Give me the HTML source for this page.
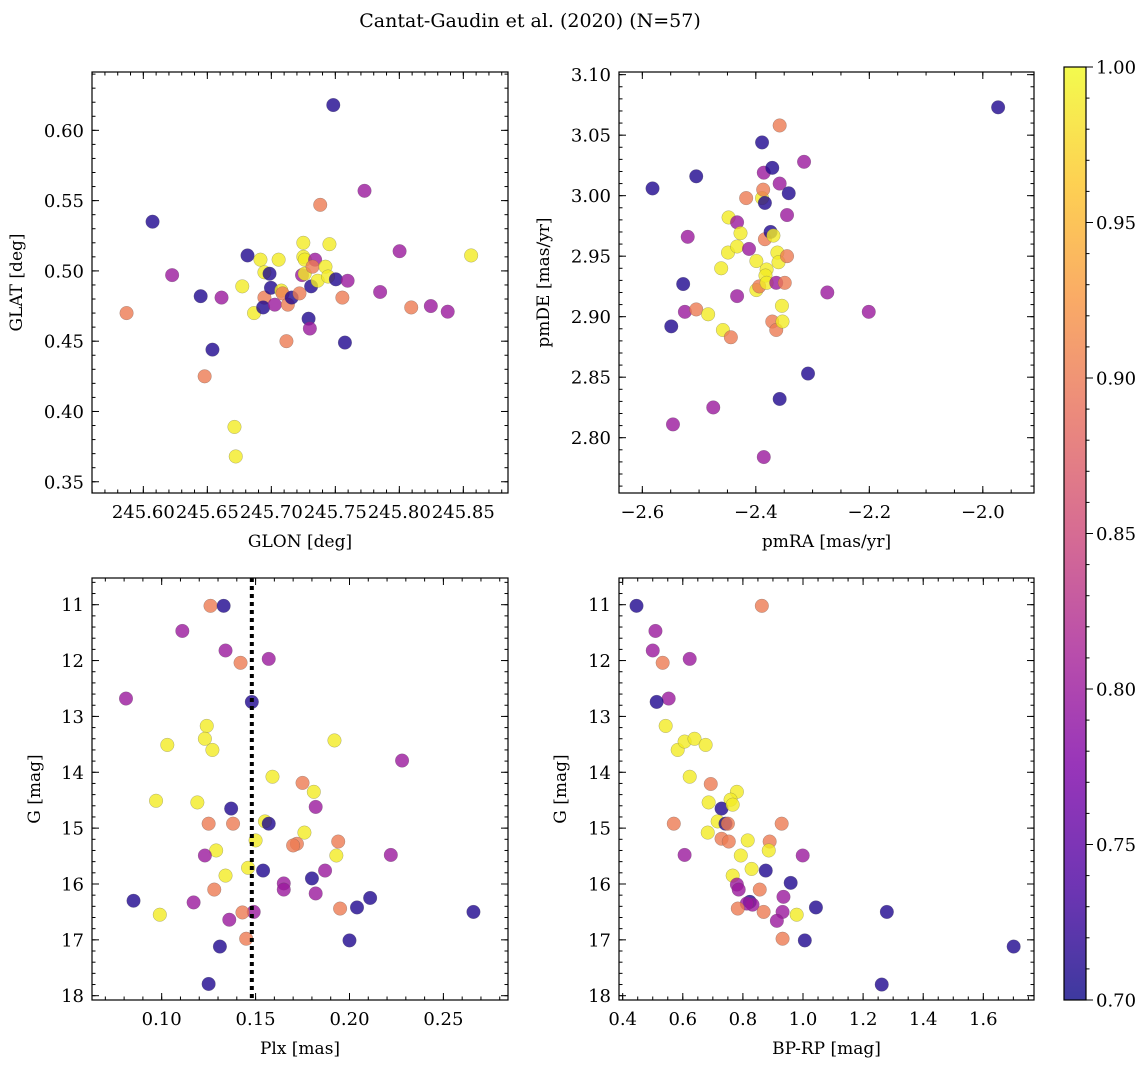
<!DOCTYPE html>
<html><head><meta charset="utf-8"><style>
body{margin:0;background:#fff}
svg{display:block;font-family:"DejaVu Serif","Liberation Serif",serif}
</style></head><body>
<svg id="fig" width="1148" height="1067" viewBox="0 0 1148 1067" xmlns="http://www.w3.org/2000/svg">
<defs>
<linearGradient id="plasma" x1="0" y1="1" x2="0" y2="0">
<stop offset="0" stop-color="#0d0887"/><stop offset="0.125" stop-color="#4c02a1"/><stop offset="0.25" stop-color="#7e03a8"/><stop offset="0.375" stop-color="#a82296"/><stop offset="0.5" stop-color="#cc4778"/><stop offset="0.625" stop-color="#e66c5c"/><stop offset="0.75" stop-color="#f89540"/><stop offset="0.875" stop-color="#fdc527"/><stop offset="1" stop-color="#f0f921"/>
</linearGradient>
</defs>
<text x="530" y="27" font-size="19" text-anchor="middle">Cantat-Gaudin et al. (2020) (N=57)</text>
</svg>
<script>
// ---- Panel 1 data: GLON vs GLAT ----
const p1X=[245.7484,245.6072,245.6225,245.5869,245.6448,245.6540,245.6479,245.6611,245.6712,245.6722,245.6773,245.6814,245.6865,245.6915,245.6946,245.6946,245.6936,245.6986,245.6997,245.7027,245.7057,245.7078,245.7088,245.7129,245.7118,245.7159,245.7220,245.7240,245.7250,245.7250,245.7261,245.7261,245.7291,245.7301,245.7311,245.7342,245.7322,245.7362,245.7382,245.7423,245.7443,245.7454,245.7504,245.7575,245.7555,245.7596,245.7728,245.7850,245.8002,245.8093,245.8246,245.8378,245.8561];
const p1Y=[0.618,0.535,0.497,0.470,0.482,0.444,0.425,0.481,0.389,0.368,0.489,0.511,0.470,0.508,0.499,0.481,0.474,0.498,0.488,0.476,0.508,0.486,0.484,0.476,0.450,0.481,0.484,0.497,0.520,0.510,0.508,0.498,0.466,0.459,0.489,0.508,0.503,0.493,0.547,0.503,0.496,0.519,0.494,0.449,0.481,0.493,0.557,0.485,0.514,0.474,0.475,0.471,0.511];
const p1P=[0.71,0.71,0.80,0.90,0.71,0.71,0.90,0.80,0.99,0.99,0.99,0.71,0.99,0.99,0.99,0.90,0.71,0.71,0.71,0.80,0.99,0.99,0.90,0.90,0.90,0.71,0.90,0.80,0.99,0.99,0.99,0.99,0.71,0.80,0.71,0.80,0.90,0.99,0.90,0.99,0.99,0.99,0.71,0.71,0.90,0.80,0.80,0.80,0.80,0.90,0.80,0.80,0.99];
// ---- Panel 2 data: pmRA vs pmDE ----
const p2X=[-1.973,-2.582,-2.505,-2.528,-2.549,-2.546,-2.520,-2.525,-2.505,-2.484,-2.475,-2.461,-2.458,-2.448,-2.449,-2.444,-2.433,-2.433,-2.433,-2.427,-2.417,-2.412,-2.399,-2.399,-2.394,-2.389,-2.389,-2.387,-2.386,-2.384,-2.384,-2.381,-2.383,-2.386,-2.381,-2.374,-2.371,-2.369,-2.371,-2.364,-2.364,-2.362,-2.360,-2.358,-2.358,-2.358,-2.354,-2.353,-2.349,-2.345,-2.345,-2.342,-2.315,-2.308,-2.274,-2.201];
const p2Y=[3.073,3.006,3.016,2.927,2.892,2.811,2.966,2.904,2.906,2.902,2.825,2.940,2.889,2.982,2.953,2.883,2.978,2.958,2.917,2.969,2.998,2.956,2.946,2.922,2.925,3.044,2.998,3.005,3.019,2.994,2.964,2.939,2.934,2.784,2.928,2.970,3.023,2.967,2.896,2.889,2.928,2.953,2.945,3.058,3.010,2.832,2.909,2.896,2.928,2.950,2.984,3.002,3.028,2.853,2.920,2.904];
const p2P=[0.71,0.71,0.71,0.71,0.71,0.80,0.80,0.80,0.90,0.99,0.80,0.99,0.99,0.99,0.99,0.90,0.80,0.99,0.80,0.99,0.90,0.80,0.99,0.99,0.90,0.71,0.99,0.90,0.80,0.71,0.90,0.99,0.99,0.80,0.99,0.71,0.71,0.99,0.90,0.90,0.80,0.99,0.99,0.90,0.80,0.71,0.99,0.99,0.90,0.90,0.80,0.71,0.80,0.71,0.80,0.80];
// ---- Panel 3 data: Plx vs G ----
const p3X=[0.126,0.133,0.111,0.134,0.142,0.157,0.081,0.148,0.124,0.123,0.127,0.103,0.192,0.228,0.159,0.175,0.181,0.097,0.119,0.137,0.182,0.125,0.138,0.155,0.157,0.176,0.150,0.129,0.172,0.170,0.194,0.123,0.193,0.222,0.187,0.146,0.154,0.134,0.180,0.165,0.165,0.128,0.182,0.211,0.117,0.085,0.204,0.195,0.266,0.149,0.143,0.099,0.136,0.145,0.200,0.131,0.125];
const p3Y=[11.02,11.02,11.47,11.82,12.04,11.97,12.68,12.74,13.17,13.40,13.60,13.51,13.43,13.79,14.08,14.19,14.35,14.51,14.54,14.65,14.62,14.92,14.92,14.88,14.92,15.08,15.22,15.40,15.28,15.31,15.24,15.49,15.49,15.48,15.76,15.71,15.76,15.85,15.90,15.99,16.10,16.10,16.17,16.25,16.33,16.30,16.42,16.44,16.50,16.50,16.51,16.55,16.64,16.98,17.01,17.12,17.79];
const p3P=[0.90,0.71,0.80,0.80,0.90,0.80,0.80,0.71,0.99,0.99,0.99,0.99,0.99,0.80,0.99,0.90,0.99,0.99,0.99,0.71,0.80,0.90,0.90,0.99,0.71,0.99,0.99,0.99,0.90,0.90,0.90,0.80,0.99,0.80,0.80,0.99,0.71,0.99,0.71,0.80,0.80,0.90,0.80,0.71,0.80,0.71,0.71,0.90,0.71,0.80,0.90,0.99,0.80,0.90,0.71,0.71,0.71];
const plxCut=[0.148];
// ---- Panel 4 data: BP-RP vs G ----
const p4X=[0.446,0.863,0.509,0.500,0.533,0.623,0.553,0.513,0.543,0.583,0.606,0.639,0.676,0.623,0.780,0.693,0.686,0.759,0.729,0.766,0.716,0.742,0.570,0.750,0.929,0.683,0.729,0.753,0.889,0.816,0.606,0.793,0.886,0.999,0.829,0.876,0.766,0.780,0.786,0.856,0.959,0.823,0.832,0.813,0.935,1.043,1.279,0.783,0.869,0.932,0.979,0.913,0.932,1.006,1.701,1.262];
const p4Y=[11.02,11.02,11.47,11.82,12.04,11.97,12.68,12.74,13.17,13.60,13.45,13.40,13.51,14.08,14.35,14.21,14.54,14.49,14.65,14.58,14.88,14.92,14.92,14.92,14.92,15.08,15.19,15.24,15.24,15.22,15.48,15.49,15.40,15.49,15.73,15.76,15.85,16.01,16.10,16.10,15.98,16.32,16.37,16.35,16.23,16.42,16.50,16.44,16.50,16.50,16.55,16.66,16.98,17.01,17.12,17.80];
const p4P=[0.71,0.90,0.80,0.80,0.90,0.80,0.80,0.71,0.99,0.99,0.99,0.99,0.99,0.99,0.99,0.90,0.99,0.99,0.71,0.99,0.99,0.71,0.90,0.90,0.90,0.99,0.90,0.90,0.90,0.99,0.80,0.99,0.99,0.80,0.99,0.71,0.99,0.80,0.80,0.90,0.71,0.71,0.80,0.80,0.80,0.71,0.71,0.90,0.90,0.80,0.99,0.80,0.90,0.71,0.71,0.71];
// ---- tick labels ----
const p1XTicks=["245.60","245.65","245.70","245.75","245.80","245.85"];
const p1YTicks=["0.35","0.40","0.45","0.50","0.55","0.60"];
const p2XTicks=["−2.6","−2.4","−2.2","−2.0"];
const p2YTicks=["2.80","2.85","2.90","2.95","3.00","3.05","3.10"];
const p3XTicks=["0.10","0.15","0.20","0.25"];
const gTicks=["11","12","13","14","15","16","17","18"];
const p4XTicks=["0.4","0.6","0.8","1.0","1.2","1.4","1.6"];
const cbTicks=["0.70","0.75","0.80","0.85","0.90","0.95","1.00"];

const NS="http://www.w3.org/2000/svg";
const fig=document.getElementById('fig');
function el(tag,attrs,parent){const e=document.createElementNS(NS,tag);for(const k in attrs)e.setAttribute(k,attrs[k]);(parent||fig).appendChild(e);return e;}
const stops=[[0,[13,8,135]],[0.125,[76,2,161]],[0.25,[126,3,168]],[0.375,[168,34,150]],[0.5,[204,71,120]],[0.625,[230,108,92]],[0.75,[248,149,64]],[0.875,[253,197,39]],[1,[240,249,33]]];
function plasma(p){let t=Math.max(0,Math.min(1,(p-0.7)/0.3));for(let i=1;i<stops.length;i++){if(t<=stops[i][0]){const a=stops[i-1],b=stops[i];const f=(t-a[0])/(b[0]-a[0]);return 'rgb('+[0,1,2].map(j=>Math.round(a[1][j]+f*(b[1][j]-a[1][j]))).join(',')+')';}}return 'rgb(240,249,33)';}
const TF=18;
function panel(o){
  const g=el('g',{});
  
  
  const sx=v=>o.x0+(v-o.xmin)/(o.xmax-o.xmin)*(o.x1-o.x0);
  const sy=o.inv?(v=>o.y0+(v-o.ymin)/(o.ymax-o.ymin)*(o.y1-o.y0)):(v=>o.y1-(v-o.ymin)/(o.ymax-o.ymin)*(o.y1-o.y0));
  const tg=el('g',{stroke:'#000','stroke-width':1},g);
  function xt(v,len){const X=sx(v);if(X<o.x0-0.5||X>o.x1+0.5)return;el('line',{x1:X,y1:o.y1,x2:X,y2:o.y1-len},tg);el('line',{x1:X,y1:o.y0,x2:X,y2:o.y0+len},tg);}
  function yt(v,len){const Y=sy(v);if(Y<o.y0-0.5||Y>o.y1+0.5)return;el('line',{x1:o.x0,y1:Y,x2:o.x0+len,y2:Y},tg);el('line',{x1:o.x1,y1:Y,x2:o.x1-len,y2:Y},tg);}
  for(let v=Math.ceil(o.xmin/o.xminor)*o.xminor;v<=o.xmax;v+=o.xminor)xt(v,3.5);
  for(let v=Math.ceil(o.ymin/o.yminor)*o.yminor;v<=o.ymax;v+=o.yminor)yt(v,3.5);
  o.xTicks.forEach(s=>{const v=parseFloat(s.replace('−','-'));xt(v,7);
    const t=el('text',{x:sx(v),y:o.y1+25,'font-size':TF,'text-anchor':'middle'},g);t.textContent=s;
    
    });
  o.yTicks.forEach(s=>{const v=parseFloat(s.replace('−','-'));yt(v,7);
    const t=el('text',{x:o.x0-8,y:sy(v)+6.5,'font-size':TF,'text-anchor':'end'},g);t.textContent=s;
    
    });
  o.X.forEach((v,i)=>{const c=el('circle',{cx:sx(v),cy:sy(o.Y[i]),r:6.8,fill:plasma(o.P[i]),'fill-opacity':0.8,stroke:'#555','stroke-opacity':0.45,'stroke-width':0.5},g);
    
    });
  if(o.extra)o.extra(g,sx,sy);
  const f=el('rect',{x:o.x0,y:o.y0,width:o.x1-o.x0,height:o.y1-o.y0,fill:'none',stroke:'#000','stroke-width':1.2},g);
  
  
  const xl=el('text',{x:(o.x0+o.x1)/2,y:o.y1+54,'font-size':17,'text-anchor':'middle'},g);xl.textContent=o.xlabel;
  
  
  const yl=el('text',{x:o.ylx,y:(o.y0+o.y1)/2,'font-size':17,'text-anchor':'middle',transform:`rotate(-90 ${o.ylx} ${(o.y0+o.y1)/2})`},g);yl.textContent=o.ylabel;
  
  
}
panel({name:'glon-glat-panel',x0:92,x1:508,y0:72,y1:493,xmin:245.5599,xmax:245.8849,ymin:0.342,ymax:0.6415,xminor:0.01,yminor:0.01,X:p1X,Y:p1Y,P:p1P,xTicks:p1XTicks,yTicks:p1YTicks,xlabel:'GLON [deg]',ylabel:'GLAT [deg]',ylx:22});
panel({name:'proper-motion-panel',x0:619,x1:1034,y0:72,y1:493,xmin:-2.6411,xmax:-1.9098,ymin:2.7543,ymax:3.1022,xminor:0.05,yminor:0.01,X:p2X,Y:p2Y,P:p2P,xTicks:p2XTicks,yTicks:p2YTicks,xlabel:'pmRA [mas/yr]',ylabel:'pmDE [mas/yr]',ylx:549});
panel({name:'plx-g-panel',x0:92,x1:508,y0:578,y1:1000,xmin:0.0629,xmax:0.2844,ymin:10.522,ymax:18.077,inv:true,xminor:0.01,yminor:0.2,X:p3X,Y:p3Y,P:p3P,xTicks:p3XTicks,yTicks:gTicks,xlabel:'Plx [mas]',ylabel:'G [mag]',ylx:40,
  extra:(g,sx,sy)=>{plxCut.forEach(v=>{const l=el('line',{x1:sx(v),x2:sx(v),y1:578,y2:1000,stroke:'#000','stroke-width':4,'stroke-dasharray':'4 4'},g);
    
    });}});
panel({name:'cmd-panel',x0:619,x1:1034,y0:578,y1:1000,xmin:0.3877,xmax:1.7687,ymin:10.522,ymax:18.077,inv:true,xminor:0.05,yminor:0.2,X:p4X,Y:p4Y,P:p4P,xTicks:p4XTicks,yTicks:gTicks,xlabel:'BP-RP [mag]',ylabel:'G [mag]',ylx:566});
const cb=el('g',{});


const cbx0=1064,cbx1=1086,cby0=67,cby1=1000;
el('rect',{x:cbx0,y:cby0,width:cbx1-cbx0,height:cby1-cby0,fill:'url(#plasma)','fill-opacity':0.8},cb);
const cs=v=>cby1-(v-0.7)/0.3*(cby1-cby0);
for(let v=0.70;v<=1.0001;v+=0.01){el('line',{x1:cbx1,x2:cbx1+3.5,y1:cs(v),y2:cs(v),stroke:'#000'},cb);}
cbTicks.forEach(s=>{const v=parseFloat(s);el('line',{x1:cbx1,x2:cbx1+7,y1:cs(v),y2:cs(v),stroke:'#000'},cb);
  const t=el('text',{x:cbx1+10,y:cs(v)+6.5,'font-size':TF},cb);t.textContent=s;
  
  });
el('rect',{x:cbx0,y:cby0,width:cbx1-cbx0,height:cby1-cby0,fill:'none',stroke:'#000','stroke-width':1.2},cb);
</script>
</body></html>
